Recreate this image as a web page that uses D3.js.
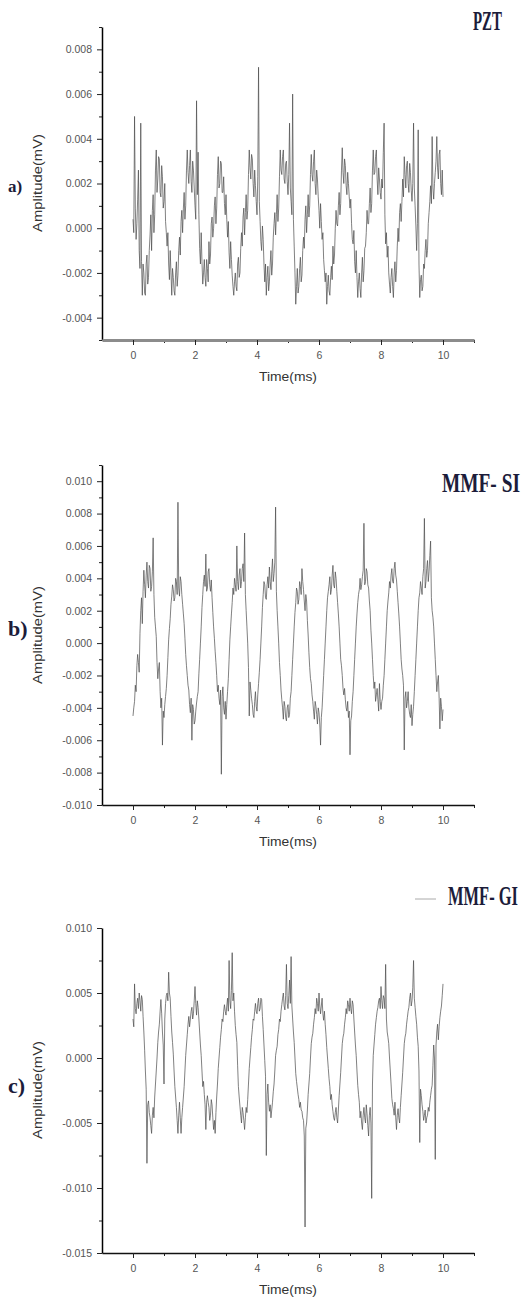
<!DOCTYPE html>
<html>
<head>
<meta charset="utf-8">
<script src="https://cdn.jsdelivr.net/npm/d3@7"></script>
<style>
  body { margin: 0; background: #fff; }
  .tick text { font-family: "Liberation Sans", Arial, sans-serif; fill: #555; }
  .axtitle { font-family: "Liberation Sans", Arial, sans-serif; fill: #333; font-size: 13px; }
  .panel { font-family: "Liberation Serif", "Times New Roman", serif; font-weight: bold; fill: #1c1c3a; }
</style>
</head>
<body>
<script>
// sampled every 0.025 ms, amplitudes in units of 0.001 mV
var dt = 0.025;

var pztAmp = [
  0.4, -0.2, 5.0, 0.9, -0.5, 0.2, 1.3, 2.6, -1.0, -1.8, 4.7, -1.5, -3.0, -1.6, -2.0, -2.9, -3.0, -1.6, -1.2, -2.5,
  -2.2, -1.0, -0.3, 0.6, -1.0, 0.8, 1.5, -0.2, 0.6, 2.6, 3.5, 1.6, 2.2, 3.2, 3.1, 1.6, 1.4, 2.8, 2.3, 0.9,
  1.2, 2.0, 0.3, -0.2, -0.8, -0.2, -1.6, -2.3, -1.0, -2.0, -3.0, -1.8, -2.2, -2.8, -3.0, -2.0, -1.5, -2.6, -2.1, -1.0,
  -0.4, -1.2, 0.3, 0.8, -0.2, 0.9, 1.6, 0.4, 1.0, 2.6, 3.5, 2.5, 2.0, 2.8, 3.5, 2.1, 1.6, 3.0, 2.6, 1.8,
  1.0, 0.4, 5.7, 1.5, 3.4, 0.6, -0.9, -1.6, -0.2, -1.5, -2.5, -2.0, -1.4, -2.2, -2.6, -1.4, -1.8, -2.4, -0.6, -1.6,
  -1.2, 0.2, 0.5, -0.4, 0.0, 1.0, 1.4, 0.2, 0.9, 2.4, 3.2, 1.8, 2.0, 3.0, 2.9, 1.6, 1.6, 2.3, 1.1, 0.6,
  1.5, 0.4, -0.4, 0.3, -1.1, -1.8, -0.6, -1.4, -2.1, -2.6, -3.0, -2.4, -2.0, -2.6, -2.8, -1.6, -1.3, -2.2, -2.0, -0.9,
  -0.2, -0.8, 0.5, 0.9, -0.3, 0.7, 1.5, 0.4, 0.8, 2.4, 3.5, 2.7, 2.2, 3.3, 3.1, 2.0, 1.4, 2.6, 1.9, 1.2,
  0.6, 2.3, 7.2, 1.2, 0.3, -0.6, -1.0, 0.1, -0.5, -1.6, -2.4, -1.6, -3.0, -2.2, -1.7, -2.8, -2.4, -1.6, -1.0, -2.1,
  -1.6, -0.4, 0.2, 0.7, -0.3, 0.6, 1.5, 0.3, 0.9, 2.3, 3.5, 2.6, 2.4, 3.2, 3.5, 2.2, 2.0, 2.9, 3.0, 2.1,
  1.5, 2.4, 4.7, 1.8, 1.2, 0.6, 6.0, 0.4, -0.8, -2.0, -3.4, -2.6, -1.8, -2.9, -2.6, -1.8, -1.3, -2.4, -2.1, -1.0,
  -0.4, -0.9, 0.4, 1.0, -0.2, 0.6, 1.5, 0.5, 1.0, 2.4, 3.3, 2.4, 2.1, 3.0, 3.5, 2.0, 1.5, 2.6, 2.2, 1.4,
  0.8, 0.0, 1.1, 0.3, -0.5, -0.2, -1.4, -1.9, -2.4, -2.0, -3.4, -2.6, -2.1, -2.8, -3.0, -2.2, -1.7, -2.3, -0.8, -1.6,
  -1.2, 0.0, 0.8, 0.2, 0.1, 1.0, 1.6, 0.6, 1.1, 2.6, 3.6, 2.5, 2.0, 3.1, 2.8, 1.9, 1.5, 2.5, 2.0, 1.4,
  0.9, 1.3, 0.2, -0.5, -0.7, -0.1, -1.5, -2.0, -1.0, -2.2, -3.1, -2.4, -2.0, -2.7, -3.1, -2.0, -1.3, -2.4, -1.9, -0.9,
  -0.8, -0.2, 0.8, 0.2, 0.2, 1.1, 1.8, 0.7, 1.1, 2.6, 3.5, 2.4, 2.5, 3.2, 3.5, 2.2, 1.5, 2.7, 2.2, 1.6,
  1.3, 2.2, 1.8, 3.4, 4.7, 0.6, -0.7, -0.2, -1.3, -0.8, -2.0, -2.5, -2.9, -2.2, -1.8, -2.6, -3.1, -2.0, -1.5, -2.4,
  -1.9, -0.8, 0.0, -0.6, 0.7, 1.1, 0.3, 1.2, 2.2, 1.4, 3.2, 2.4, 1.8, 2.8, 3.0, 2.0, 1.6, 2.9, 2.5, 1.7,
  1.2, 2.0, 4.7, 1.8, 1.0, 0.1, -1.0, 0.2, 4.4, -1.6, -3.1, -2.3, -2.1, -2.8, -2.6, -1.6, -1.8, -1.0, -0.5, -1.3,
  -1.0, 0.2, 0.7, 1.2, 1.9, 1.1, 4.1, 1.8, 1.3, 2.0, 2.5, 3.0, 4.1, 2.7, 2.2, 3.3, 3.5, 2.0, 1.5, 2.6,
  1.4
];

var siAmp = [
  -4.5, -4.0, -3.6, -2.6, -3.0, -1.4, -0.7, -1.2, -1.8, 0.6, 2.0, 2.8, 1.2, 3.2, 4.5, 3.6, 2.8, 4.2, 5.0, 3.8,
  3.4, 4.8, 4.6, 3.2, 3.5, 4.4, 6.5, 3.0, 1.6, 1.0, 0.4, -1.2, -2.2, -1.6, -1.2, -3.0, -4.0, -3.4, -6.3, -4.2,
  -4.6, -3.8, -3.3, -2.8, -2.0, -0.9, 0.2, 0.9, 1.5, 2.4, 2.9, 3.6, 3.3, 2.6, 2.8, 4.0, 3.8, 3.0, 8.7, 3.4,
  2.9, 4.1, 3.8, 3.0, 2.4, 1.8, 1.2, 0.3, -0.7, -1.4, -2.0, -2.6, -2.9, -3.8, -4.3, -3.4, -6.0, -3.8, -4.1, -5.0,
  -4.8, -4.2, -3.7, -3.3, -3.0, -1.9, -1.0, 0.0, 1.0, 2.2, 3.0, 3.8, 4.2, 3.5, 5.5, 3.2, 3.4, 4.4, 4.6, 3.6,
  3.2, 3.9, 2.8, 1.9, 1.0, 0.3, -0.5, -1.2, -2.0, -3.0, -2.6, -3.4, -3.8, -2.9, -8.1, -3.3, -2.7, -4.0, -4.4, -3.6,
  -4.7, -3.8, -3.0, -2.2, -1.0, 0.2, 1.0, 1.8, 2.5, 3.4, 3.0, 4.0, 3.6, 3.2, 6.0, 3.8, 3.3, 4.2, 4.6, 3.4,
  3.8, 4.6, 4.9, 3.8, 6.8, 3.0, 2.0, 1.0, 0.0, -1.5, -4.5, -2.4, -2.9, -3.4, -3.8, -4.4, -4.6, -3.6, -3.0, -3.9,
  -4.2, -3.2, -2.5, -1.8, -1.0, 0.0, 1.0, 2.2, 3.0, 3.8, 3.6, 2.8, 2.7, 3.6, 4.1, 3.4, 4.7, 3.8, 3.3, 4.4,
  5.2, 3.8, 4.3, 5.0, 8.4, 3.2, 2.0, 1.0, 0.0, -1.2, -2.0, -2.9, -3.5, -4.0, -4.7, -3.6, -3.9, -4.6, -4.8, -4.0,
  -3.8, -4.6, -4.4, -3.4, -3.0, -2.0, -1.0, 0.0, 1.0, 1.9, 2.5, 3.4, 3.2, 2.4, 2.7, 3.8, 3.5, 3.0, 4.6, 3.8,
  3.3, 2.6, 2.0, 3.0, 2.6, 1.4, 0.5, -0.6, -1.5, -2.2, -2.5, -3.2, -3.6, -4.2, -4.7, -3.6, -3.9, -4.4, -5.0, -4.0,
  -4.3, -5.0, -6.3, -4.6, -4.0, -3.0, -2.0, -1.0, 0.0, 1.0, 2.0, 2.8, 3.2, 3.6, 4.1, 3.0, 3.3, 4.2, 4.8, 3.6,
  3.4, 4.4, 4.0, 3.2, 2.5, 1.8, 1.0, 0.0, -1.0, -1.4, -2.0, -2.8, -3.2, -2.8, -3.5, -4.0, -4.2, -3.6, -4.6, -4.2,
  -6.9, -4.8, -4.5, -3.6, -3.0, -2.0, -1.0, 0.0, 1.0, 1.8, 2.5, 3.0, 3.3, 4.0, 3.3, 3.6, 4.1, 4.5, 7.4, 3.6,
  3.8, 4.6, 4.4, 3.6, 3.4, 2.6, 2.0, 0.8, 0.0, -1.0, -2.0, -2.8, -2.4, -3.6, -3.2, -2.8, -3.5, -4.2, -2.5, -3.6,
  -4.1, -3.6, -3.4, -2.6, -2.0, -1.0, 0.0, 1.0, 2.0, 2.6, 3.1, 3.8, 3.4, 4.2, 4.6, 3.8, 3.7, 4.6, 5.0, 4.2,
  3.9, 3.2, 2.5, 1.8, 1.0, 0.0, -1.0, -1.6, -2.0, -2.6, -6.6, -3.4, -3.0, -4.0, -3.6, -3.0, -4.0, -4.4, -4.6, -3.8,
  -5.1, -4.4, -3.9, -3.0, -2.0, -1.0, 0.0, 1.0, 2.0, 2.8, 3.1, 3.8, 3.4, 3.0, 4.1, 4.6, 7.7, 3.4, 3.8, 4.6,
  5.1, 3.8, 4.4, 5.4, 6.3, 2.8, 2.0, 1.6, 1.0, 0.0, -1.0, -2.0, -3.0, -2.4, -2.0, -3.4, -5.3, -3.4, -3.9, -4.8,
  -4.1
];

var giAmp = [
  3.0, 2.4, 5.7, 3.8, 3.4, 4.2, 4.6, 3.8, 5.0, 4.4, 3.6, 4.8, 4.5, 3.2, 2.0, 0.6, -1.0, -2.4, -8.1, -3.6,
  -3.3, -4.2, -4.6, -5.2, -5.8, -4.4, -3.8, -4.6, -3.0, -2.0, -1.0, 0.0, 1.2, 2.0, 2.6, 3.6, 4.5, 3.4, 2.0, 1.0,
  -2.0, 3.0, 4.2, 4.8, 5.0, 4.4, 6.6, 5.0, 4.6, 3.2, 2.0, 1.2, 0.3, -1.0, -2.2, -3.0, -3.8, -4.8, -5.8, -4.4,
  -3.4, -4.6, -5.8, -4.6, -3.8, -3.0, -2.2, -1.0, 0.2, 1.0, 1.8, 2.6, 3.2, 2.4, 3.0, 3.6, 3.9, 3.0, 3.4, 4.4,
  5.5, 4.2, 3.3, 4.4, 3.9, 3.0, 2.0, 1.0, 0.2, -1.0, -2.2, -1.8, -2.8, -3.6, -5.5, -3.4, -2.9, -3.4, -3.8, -4.8,
  -4.4, -3.2, -3.6, -4.6, -5.5, -4.8, -5.8, -4.2, -3.0, -2.0, -0.8, 0.0, 0.8, 1.6, 2.2, 3.0, 2.8, 3.6, 4.1, 3.6,
  3.3, 4.0, 4.6, 3.6, 7.5, 4.4, 3.8, 5.2, 8.1, 4.4, 5.0, 3.6, 2.5, 1.8, 1.2, -0.6, -2.2, -3.0, -3.7, -4.4,
  -5.0, -3.8, -4.2, -4.8, -5.5, -4.6, -3.8, -4.2, -3.2, -2.0, -0.8, 0.0, 0.8, 1.6, 2.2, 3.0, 2.9, 3.6, 4.2, 3.6,
  3.4, 4.2, 4.6, 3.6, 3.8, 4.6, 4.5, 3.2, 2.2, 1.0, -0.2, -1.4, -7.5, -2.8, -2.0, -3.4, -4.1, -3.6, -4.6, -4.0,
  -3.4, -2.6, -2.0, -1.0, 0.2, 0.6, 0.9, 1.8, 2.2, 3.0, 2.8, 3.6, 4.1, 4.6, 5.0, 4.0, 3.7, 4.8, 7.2, 4.2,
  3.8, 4.8, 6.0, 4.2, 7.8, 4.0, 3.0, 2.0, 1.2, 0.0, -1.2, -1.8, -2.3, -2.8, -3.2, -3.8, -3.4, -4.0, -4.1, -4.6,
  -4.8, -6.0, -13.0, -5.4, -5.0, -4.0, -2.8, -2.0, -1.2, 0.0, 1.1, 1.6, 1.9, 2.6, 3.1, 3.8, 3.4, 4.6, 4.2, 3.6,
  5.0, 4.0, 3.4, 4.0, 4.6, 3.4, 2.9, 3.6, 2.6, 1.8, 0.8, 0.0, -0.8, -1.6, -2.2, -3.2, -2.8, -3.6, -4.1, -4.6,
  -4.8, -4.2, -3.8, -4.6, -5.0, -4.0, -2.9, -2.0, -1.1, 0.0, 1.1, 1.6, 1.9, 2.6, 3.1, 3.8, 3.4, 4.4, 4.1, 3.6,
  4.6, 3.8, 3.4, 4.4, 4.1, 3.0, 2.0, 1.0, 0.2, -1.0, -2.1, -2.8, -3.4, -4.6, -4.1, -5.0, -5.5, -4.4, -3.8, -4.6,
  -5.0, -3.6, -4.3, -5.2, -6.0, -4.4, -3.8, -5.0, -10.8, -2.0, 0.2, 1.0, 1.8, 2.6, 3.1, 3.6, 3.9, 4.4, 4.6, 3.8,
  5.5, 4.4, 3.8, 4.8, 4.6, 3.8, 7.2, 3.0, 2.0, 1.6, 1.1, 0.0, -1.0, -2.0, -3.1, -3.6, -3.9, -4.4, -3.4, -4.6,
  -5.5, -4.4, -3.9, -4.6, -5.0, -3.8, -2.9, -2.0, -1.1, 0.0, 1.1, 1.6, 1.9, 2.6, 3.1, 3.6, 3.9, 4.6, 5.0, 4.0,
  4.4, 5.4, 7.5, 4.6, 3.9, 3.2, 2.6, 1.6, 0.9, -1.0, -6.5, -2.4, -2.9, -3.6, -4.1, -4.8, -4.4, -4.0, -5.0, -4.6,
  -4.4, -3.8, -4.1, -3.4, -2.9, -2.4, -2.1, -0.6, 1.0, 0.0, -7.8, 1.0, 2.0, 2.6, 1.4, 2.4, 3.1, 3.6, 4.0, 4.8,
  5.7
];

var xTicks = [0, 2, 4, 6, 8, 10];
var xMinor = [1, 3, 5, 7, 9, 11];
var yTicksA = [-4, -2, 0, 2, 4, 6, 8];
var yTicksB = [-10, -8, -6, -4, -2, 0, 2, 4, 6, 8, 10];
var yTicksC = [-15, -10, -5, 0, 5, 10];

var svg = d3.select("body").append("svg")
    .attr("width", 528)
    .attr("height", 1302);

function drawPanel(p) {
    var x = d3.scaleLinear().domain([-1, 11]).range([102, 474]);
    var y = d3.scaleLinear().domain(p.yDomain).range([p.bottom, p.top]);

    var g = svg.append("g");

    // signal
    var line = d3.line()
        .x(function(d, i) { return x(i * dt); })
        .y(function(d) { return y(d); });
    g.append("path")
        .datum(p.data)
        .attr("fill", "none")
        .attr("stroke", "#4a4a4a")
        .attr("stroke-width", 0.7)
        .attr("d", line);

    // minor ticks
    g.append("g")
        .attr("transform", "translate(0," + p.bottom + ")")
        .call(d3.axisBottom(x).tickValues(xMinor).tickSize(3).tickFormat(""))
        .call(function(s) { s.select(".domain").remove(); });
    g.append("g")
        .attr("transform", "translate(102,0)")
        .call(d3.axisLeft(y).tickValues(p.yMinor).tickSize(3).tickFormat(""))
        .call(function(s) { s.select(".domain").remove(); });

    // major axes
    var ya = g.append("g")
        .attr("transform", "translate(102,0)")
        .call(d3.axisLeft(y).tickValues(p.yTicks).tickSize(5).tickPadding(5).tickSizeOuter(0)
            .tickFormat(function(v) { return (v / 1000).toFixed(3); }));
    ya.selectAll("text").attr("font-size", 10.5).attr("font-family", "Liberation Sans");
    ya.select(".domain").attr("stroke-width", 1.5);

    var xa = g.append("g")
        .attr("transform", "translate(0," + p.bottom + ")")
        .call(d3.axisBottom(x).tickValues(xTicks).tickSize(5).tickPadding(7).tickSizeOuter(0));
    xa.selectAll("text").attr("font-size", 10.5).attr("font-family", "Liberation Sans");
    xa.select(".domain").attr("stroke", p.xAxisColor).attr("stroke-width", p.xAxisWidth);

    g.selectAll(".tick line").attr("stroke", "#222");

    // titles
    g.append("text")
        .attr("class", "axtitle")
        .attr("x", 288)
        .attr("y", p.bottom + 41)
        .attr("text-anchor", "middle")
        .attr("textLength", 58)
        .attr("lengthAdjust", "spacingAndGlyphs")
        .text("Time(ms)");

    g.append("text")
        .attr("class", "axtitle")
        .attr("transform", "translate(42," + p.ampY + ") rotate(-90)")
        .attr("text-anchor", "middle")
        .attr("textLength", 98)
        .attr("lengthAdjust", "spacingAndGlyphs")
        .text("Amplitude(mV)");

    g.append("text")
        .attr("class", "panel")
        .attr("x", 8)
        .attr("y", p.labelY)
        .attr("font-size", p.labelSize)
        .text(p.label);

    // condensed bold serif name, squeezed to the width seen in the figure
    var name = g.append("text")
        .attr("class", "panel")
        .attr("font-size", 27)
        .text(p.name);
    var natural = name.node().getComputedTextLength();
    name.attr("transform", "translate(" + p.nameX + "," + p.nameY + ") scale(" + (p.nameW / natural) + ",1)");
}

drawPanel({
    data: pztAmp, yDomain: [-5, 9], top: 27, bottom: 340,
    yTicks: yTicksA, yMinor: [-5, -3, -1, 1, 3, 5, 7, 9],
    xAxisColor: "#8c8c8c", xAxisWidth: 3,
    ampY: 183, label: "a)", labelY: 192, labelSize: 17,
    name: "PZT", nameX: 473, nameY: 30, nameW: 29
});

drawPanel({
    data: siAmp, yDomain: [-10, 11], top: 465, bottom: 805,
    yTicks: yTicksB, yMinor: [-9, -7, -5, -3, -1, 1, 3, 5, 7, 9, 11],
    xAxisColor: "#111", xAxisWidth: 1.5,
    ampY: 635, label: "b)", labelY: 636, labelSize: 22,
    name: "MMF- SI", nameX: 442, nameY: 492, nameW: 78
});

drawPanel({
    data: giAmp, yDomain: [-15, 10], top: 928, bottom: 1253,
    yTicks: yTicksC, yMinor: [-12.5, -7.5, -2.5, 2.5, 7.5],
    xAxisColor: "#111", xAxisWidth: 1.5,
    ampY: 1090, label: "c)", labelY: 1093, labelSize: 22,
    name: "MMF- GI", nameX: 448, nameY: 905, nameW: 70
});

// legend stroke next to MMF- GI
svg.append("line")
    .attr("x1", 415).attr("x2", 436)
    .attr("y1", 899).attr("y2", 899)
    .attr("stroke", "#aaa")
    .attr("stroke-width", 1);
</script>
</body>
</html>
